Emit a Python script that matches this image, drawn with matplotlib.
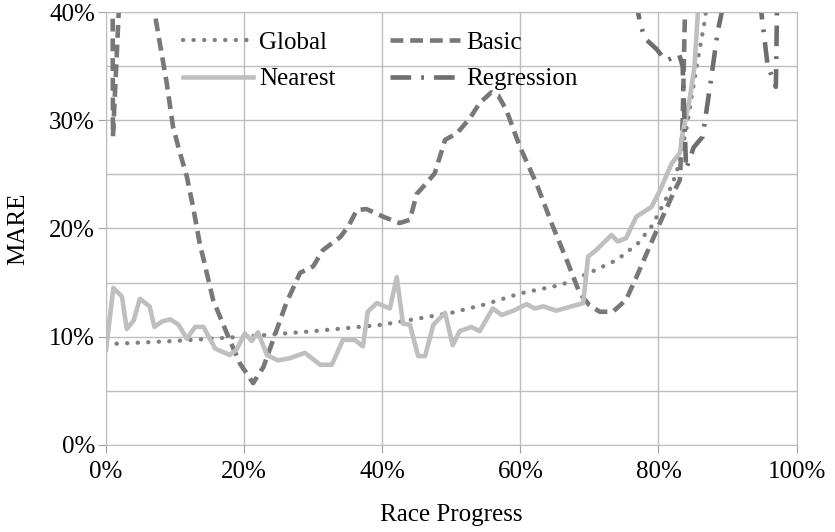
import matplotlib
matplotlib.use("Agg")
import matplotlib.pyplot as plt
from matplotlib.ticker import MultipleLocator, FuncFormatter

# values (race progress %, MARE %)
global_x = [0, 10, 20, 30, 40, 50, 55, 60, 66, 70, 74, 77, 79, 81, 82.6, 84.1, 85.5, 86.7, 88]
global_y = [9.3, 9.6, 10.0, 10.5, 11.1, 12.2, 13.0, 14.0, 14.8, 15.9, 17.1, 18.6, 20.2, 22.6, 25.1, 29.4, 34.9, 39.2, 46]

basic_x = [0, 1.0, 2.2, 4, 6, 7.1, 8.8, 9.7, 10.7, 11.7, 12.6, 13.6, 14.1, 15.5, 17.5, 19.4,
           21.3, 22.8, 24.7, 26.1, 28.1, 30.0, 31.4, 33.9, 35.1, 36.3, 37.7, 40.1, 42.5, 44.0,
           45.0, 46.4, 47.6, 49.1, 50.8, 52.7, 54.1, 55.8, 56.8, 58.0, 59.9, 62.3, 64.7, 66.7,
           68.6, 70.0, 71.5, 73.4, 75.3, 76.8, 78.7, 80.2, 82.1, 83.1, 83.5, 84.0, 90, 100]
basic_y = [300, 28.5, 45, 52, 47, 39.7, 33.4, 29.4, 27.0, 24.8, 22.0, 18.5, 17.2, 13.4, 10.3, 7.5,
           5.7, 7.2, 10.6, 13.1, 15.9, 16.5, 18.0, 19.2, 20.2, 21.7, 21.8, 21.1, 20.5, 20.8,
           23.2, 24.2, 25.1, 28.2, 28.8, 30.2, 31.6, 32.6, 32.3, 30.9, 27.6, 24.2, 20.2, 17.1,
           14.0, 12.9, 12.3, 12.3, 13.4, 15.5, 18.3, 20.5, 23.2, 24.5, 30.0, 45, 60, 60]

nearest_x = [0, 1.06, 2.3, 3.0, 4.0, 4.9, 6.3, 7.0, 8.1, 9.3, 10.5, 11.7, 12.9, 14.1, 15.8, 17.9,
             18.9, 20.1, 21.1, 22.0, 23.3, 24.9, 26.6, 28.8, 31.0, 32.7, 34.3, 36.0, 37.2, 37.9,
             39.2, 41.1, 42.1, 43.0, 44.0, 45.2, 46.2, 47.4, 49.1, 50.2, 51.2, 52.9, 54.1, 56.0,
             57.3, 59.0, 60.9, 62.1, 63.3, 65.2, 69.1, 69.8, 70.8, 73.2, 74.1, 75.3, 76.8, 79.0,
             80.2, 81.9, 83.1, 83.5, 84.5, 85.2, 85.7, 86.5]
nearest_y = [8.8, 14.5, 13.7, 10.7, 11.5, 13.5, 12.8, 10.9, 11.4, 11.6, 11.1, 9.8, 10.9, 10.9, 8.9, 8.3,
             8.8, 10.3, 9.6, 10.4, 8.3, 7.8, 8.0, 8.5, 7.4, 7.4, 9.7, 9.7, 9.1, 12.3,
             13.1, 12.6, 15.5, 11.2, 11.1, 8.2, 8.2, 11.1, 12.2, 9.2, 10.5, 10.9, 10.5, 12.6,
             12.0, 12.4, 13.0, 12.6, 12.8, 12.4, 13.1, 17.4, 17.9, 19.4, 18.8, 19.1, 21.1, 22.0,
             23.5, 26.0, 27.0, 28.8, 31.9, 34.9, 39.9, 48]

regression_x = [0, 40, 76.5, 77.3, 78.0, 79.7, 81.1, 83.0, 83.5, 84.0, 85.1, 86.4, 87.5, 88.6,
                89.5, 92, 94.8, 95.8, 97.0, 97.2, 100]
regression_y = [60, 60, 42, 39.1, 37.6, 36.6, 35.5, 36.1, 35.0, 25.5, 27.5, 28.5, 33.3, 38.3,
                41, 50, 40.5, 35.1, 33.1, 42, 60]

plt.rcParams['font.family'] = ['Liberation Serif', 'DejaVu Serif']

fig = plt.figure(figsize=(8.35, 5.32), dpi=100)
ax = fig.add_axes([0.127, 0.164, 0.827, 0.813])

l_global, = ax.plot(global_x, global_y, color='#808080', lw=3.1, dashes=(0.05, 2.4),
                    dash_capstyle='round', label='Global')
l_basic, = ax.plot(basic_x, basic_y, color='#787878', lw=3.3, dashes=(2.8, 1.5), label='Basic')
l_nearest, = ax.plot(nearest_x, nearest_y, color='#bfbfbf', lw=3.3, label='Nearest')
l_reg, = ax.plot(regression_x, regression_y, color='#6e6e6e', lw=3.3,
                 dashes=(4.5, 2.2, 0.6, 2.2), label='Regression')

ax.set_xlim(0, 100)
ax.set_ylim(0, 40)
ax.xaxis.set_major_locator(MultipleLocator(20))
ax.yaxis.set_major_locator(MultipleLocator(10))
ax.yaxis.set_minor_locator(MultipleLocator(5))
pct = FuncFormatter(lambda v, p: '%d%%' % round(v))
ax.xaxis.set_major_formatter(pct)
ax.yaxis.set_major_formatter(pct)

ax.grid(True, which='major', color='#bdbdbd', lw=1)
ax.grid(True, which='minor', axis='y', color='#bdbdbd', lw=1)
ax.set_axisbelow(True)
for s in ax.spines.values():
    s.set_color('#bdbdbd')
ax.tick_params(axis='both', which='major', direction='out', length=6, color='#a0a0a0',
               labelsize=18, pad=2)
ax.tick_params(axis='x', which='major', pad=6)
ax.tick_params(axis='y', which='minor', length=0)

ax.set_xlabel('Race Progress', fontsize=18, labelpad=15)
ax.set_ylabel('MARE', fontsize=18, labelpad=14)

# column-major order so rows read Global/Basic, Nearest/Regression
ax.legend(handles=[l_global, l_nearest, l_basic, l_reg], loc='upper left',
          bbox_to_anchor=(0.111, 0.955), ncol=2, frameon=False,
          fontsize=18, handlelength=2.8, handletextpad=0.25, columnspacing=2.2,
          labelspacing=0.55, borderpad=0, borderaxespad=0)

fig.savefig('out.png', dpi=100)
